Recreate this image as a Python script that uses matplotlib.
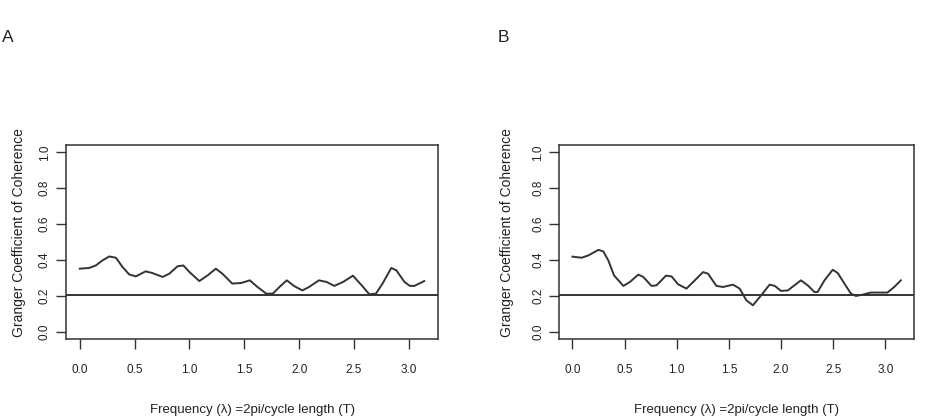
import matplotlib.pyplot as plt
from matplotlib import font_manager

# Granger coefficient of coherence
freq_a = [0.0, 0.085, 0.146, 0.207, 0.268, 0.329, 0.39, 0.45, 0.51, 0.60, 0.66, 0.755,
          0.816, 0.89, 0.944, 1.0, 1.09, 1.166, 1.24, 1.30, 1.39, 1.47, 1.55, 1.62,
          1.70, 1.76, 1.82, 1.887, 1.957, 2.03, 2.09, 2.18, 2.25, 2.32, 2.40, 2.49,
          2.57, 2.64, 2.70, 2.76, 2.84, 2.886, 2.96, 3.01, 3.05, 3.14]
coh_a = [0.352, 0.356, 0.37, 0.398, 0.42, 0.413, 0.361, 0.32, 0.309, 0.337, 0.328, 0.306,
         0.324, 0.365, 0.37, 0.333, 0.283, 0.315, 0.352, 0.324, 0.269, 0.272, 0.287, 0.25,
         0.213, 0.213, 0.25, 0.287, 0.254, 0.231, 0.25, 0.287, 0.278, 0.256, 0.278, 0.313,
         0.259, 0.209, 0.213, 0.269, 0.356, 0.343, 0.278, 0.256, 0.256, 0.283]

freq_b = [0.0, 0.089, 0.153, 0.249, 0.296, 0.344, 0.398, 0.488, 0.551, 0.631, 0.679, 0.758,
          0.806, 0.896, 0.95, 1.013, 1.093, 1.173, 1.252, 1.30, 1.38, 1.444, 1.539, 1.603,
          1.667, 1.73, 1.81, 1.89, 1.94, 2.0, 2.065, 2.19, 2.256, 2.32, 2.35, 2.416,
          2.495, 2.543, 2.607, 2.67, 2.718, 2.78, 2.86, 3.02, 3.085, 3.148]
coh_b = [0.419, 0.413, 0.426, 0.457, 0.448, 0.398, 0.315, 0.256, 0.278, 0.319, 0.306, 0.256,
         0.259, 0.313, 0.309, 0.265, 0.241, 0.287, 0.333, 0.324, 0.256, 0.25, 0.263, 0.241,
         0.176, 0.148, 0.204, 0.263, 0.256, 0.228, 0.231, 0.287, 0.259, 0.222, 0.222, 0.287,
         0.346, 0.328, 0.269, 0.213, 0.2, 0.207, 0.219, 0.219, 0.25, 0.287]

threshold = 0.207
panel_labels = ['A', 'B']
x_ticks = [0.0, 0.5, 1.0, 1.5, 2.0, 2.5, 3.0]
y_ticks = [0.0, 0.2, 0.4, 0.6, 0.8, 1.0]

names = {f.name for f in font_manager.fontManager.ttflist}
family = 'Liberation Sans Narrow' if 'Liberation Sans Narrow' in names else 'Liberation Sans'
plt.rcParams['font.family'] = [family, 'DejaVu Sans']

fig = plt.figure(figsize=(9.26, 4.16), dpi=100)
ink = '#333333'

# axes rectangles in figure fractions
rects = [[0.0713, 0.185, 0.4017, 0.466], [0.604, 0.185, 0.383, 0.466]]
label_x = [0.002, 0.537]
ylabel_x = [0.02, 0.548]

for i, (freq, coh) in enumerate([(freq_a, coh_a), (freq_b, coh_b)]):
    ax = fig.add_axes(rects[i])
    ax.plot(freq, coh, color=ink, linewidth=1.4)
    ax.axhline(threshold, color=ink, linewidth=1.4)
    xr = max(freq) - min(freq)
    ax.set_xlim(min(freq) - 0.04 * xr, max(freq) + 0.04 * xr)
    ax.set_ylim(-0.04, 1.04)
    ax.set_xticks(x_ticks)
    ax.set_xticklabels([f'{v:.1f}' for v in x_ticks])
    ax.set_yticks(y_ticks)
    ax.set_yticklabels([f'{v:.1f}' for v in y_ticks], rotation=90, va='center')
    ax.tick_params(direction='out', length=7, width=1, color=ink, labelsize=8.5,
                   labelcolor='#222222', pad=11)
    ax.tick_params(axis='y', pad=4)
    for s in ax.spines.values():
        s.set_color(ink)
        s.set_linewidth(1.1)
    ax.set_xlabel('Frequency (λ) =2pi/cycle length (T)', fontsize=9.5, labelpad=20,
                  color='#222222')
    fig.text(ylabel_x[i], 0.44, 'Granger Coefficient of Coherence',
             rotation=90, ha='center', va='center', fontsize=10, color='#222222')
    fig.text(label_x[i], 0.91, panel_labels[i], fontsize=12.5, ha='left', va='center',
             color='#222222')

fig.savefig('out.png', dpi=100)
